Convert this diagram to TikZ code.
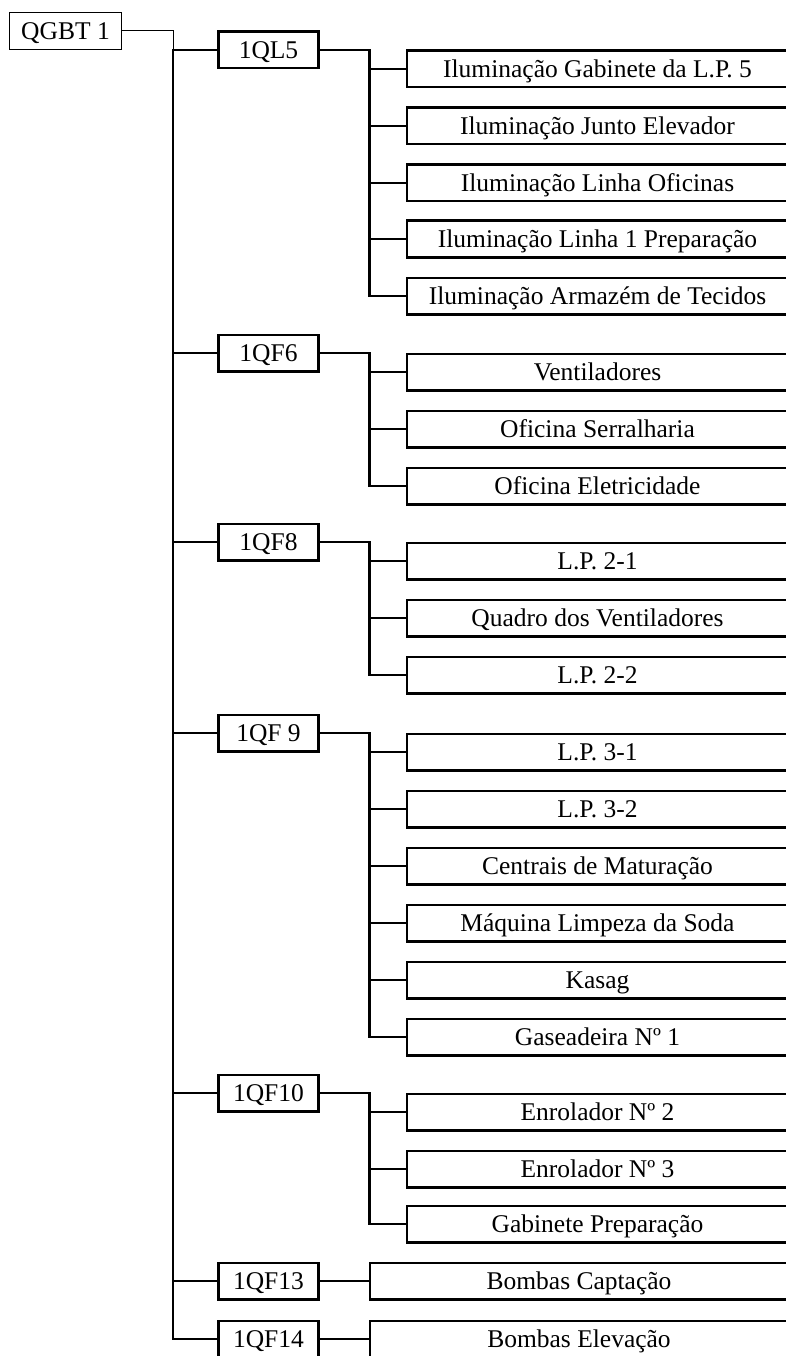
\documentclass[tikz,border=0pt]{standalone}
\usepackage{fontspec}
\setmainfont{Liberation Serif}

\begin{document}
\begin{tikzpicture}[
      x=1pt, y=-1pt,
      font=\fontsize{25.5}{30}\selectfont,
      inner sep=0pt,
      text height=17pt, text depth=0pt,
      wire/.style={line width=2.6pt},
      feed/.style={line width=1pt},
      main/.style={draw,feed,minimum width=112pt,minimum height=37pt},
      panel/.style={draw,wire,minimum width=100pt,minimum height=36.4pt},
      load/.style={draw,wire,minimum width=381pt,minimum height=36.4pt},
      pump/.style={load,minimum width=418pt}
    ]
    \useasboundingbox (0,0) rectangle (786,1356);

    \node (qgbt) [main] at (65.5,31) {QGBT 1};

    \node (ql5) [panel] at (268.5,50) {1QL5};
    \node (l51) [load] at (597.5,69) {Iluminação Gabinete da L.P. 5};
    \node (l52) [load] at (597.5,126) {Iluminação Junto Elevador};
    \node (l53) [load] at (597.5,183) {Iluminação Linha Oficinas};
    \node (l54) [load] at (597.5,239) {Iluminação Linha 1 Preparação};
    \node (l55) [load] at (597.5,296) {Iluminação Armazém de Tecidos};

    \node (qf6) [panel] at (268.5,353) {1QF6};
    \node (f61) [load] at (597.5,372) {Ventiladores};
    \node (f62) [load] at (597.5,429) {Oficina Serralharia};
    \node (f63) [load] at (597.5,486) {Oficina Eletricidade};

    \node (qf8) [panel] at (268.5,542) {1QF8};
    \node (f81) [load] at (597.5,561) {L.P. 2-1};
    \node (f82) [load] at (597.5,618) {Quadro dos Ventiladores};
    \node (f83) [load] at (597.5,675) {L.P. 2-2};

    \node (qf9) [panel] at (268.5,733) {1QF 9};
    \node (f91) [load] at (597.5,752) {L.P. 3-1};
    \node (f92) [load] at (597.5,809) {L.P. 3-2};
    \node (f93) [load] at (597.5,866) {Centrais de Maturação};
    \node (f94) [load] at (597.5,923) {Máquina Limpeza da Soda};
    \node (f95) [load] at (597.5,980) {Kasag};
    \node (f96) [load] at (597.5,1037) {Gaseadeira Nº 1};

    \node (qf10) [panel] at (268.5,1093) {1QF10};
    \node (f101) [load] at (597.5,1112) {Enrolador Nº 2};
    \node (f102) [load] at (597.5,1169) {Enrolador Nº 3};
    \node (f103) [load] at (597.5,1224) {Gabinete Preparação};

    \node (qf13) [panel] at (268.5,1281) {1QF13};
    \node (f131) [pump] at (579,1281) {Bombas Captação};

    \node (qf14) [panel] at (268.5,1339) {1QF14};
    \node (f141) [pump] at (579,1339) {Bombas Elevação};

    % main busbar
    \coordinate (top) at (173,50);
    \draw[feed] (qgbt.east) -| (top);
    \draw[wire] (ql5.west) -- (top) |- (qf14.west)
      (top) |- (qf6.west) (top) |- (qf8.west) (top) |- (qf9.west)
      (top) |- (qf10.west) (top) |- (qf13.west);

    % outgoing feeders of each panel
    \coordinate (s5) at (369.5,50);
    \coordinate (s6) at (369.5,353);
    \coordinate (s8) at (369.5,542);
    \coordinate (s9) at (369.5,733);
    \coordinate (s10) at (369.5,1093);
    \draw[wire] (ql5.east) -- (s5) |- (l55.west)
      (s5) |- (l51.west) (s5) |- (l52.west) (s5) |- (l53.west) (s5) |- (l54.west);
    \draw[wire] (qf6.east) -- (s6) |- (f63.west)
      (s6) |- (f61.west) (s6) |- (f62.west);
    \draw[wire] (qf8.east) -- (s8) |- (f83.west)
      (s8) |- (f81.west) (s8) |- (f82.west);
    \draw[wire] (qf9.east) -- (s9) |- (f96.west)
      (s9) |- (f91.west) (s9) |- (f92.west) (s9) |- (f93.west)
      (s9) |- (f94.west) (s9) |- (f95.west);
    \draw[wire] (qf10.east) -- (s10) |- (f103.west)
      (s10) |- (f101.west) (s10) |- (f102.west);
    \draw[wire] (qf13.east) -- (f131.west);
    \draw[wire] (qf14.east) -- (f141.west);
  \end{tikzpicture}
\end{document}
